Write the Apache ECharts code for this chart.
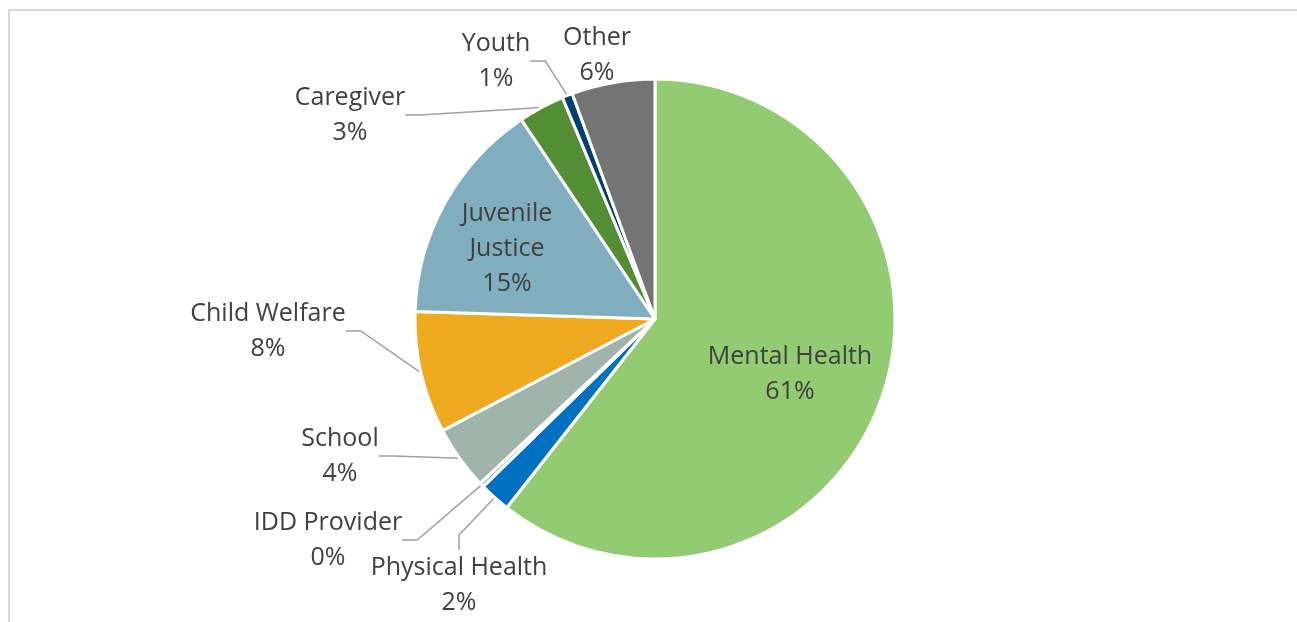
<!DOCTYPE html>
<html>
<head>
<meta charset="utf-8">
<script src="https://cdn.jsdelivr.net/npm/echarts@6/dist/echarts.min.js"></script>
<style>
  html, body { margin: 0; padding: 0; background: #ffffff; }
  #chart { width: 1297px; height: 622px; }
</style>
</head>
<body>
<div id="chart"></div>
<script>
// Referral sources, share of referrals (%), clockwise from 12 o'clock
const categories = ['Mental Health', 'Physical Health', 'IDD Provider', 'School', 'Child Welfare',
  'Juvenile Justice', 'Caregiver', 'Youth', 'Other'];
const shares = [60.6, 2.1, 0.3, 4.3, 8.2, 15.1, 3.1, 0.7, 5.6];

// Display names (Juvenile Justice wraps onto two lines inside its slice)
const labelNames = ['Mental Health', 'Physical Health', 'IDD Provider', 'School', 'Child Welfare',
  'Juvenile\nJustice', 'Caregiver', 'Youth', 'Other'];

const sliceColors = ['#92cb72', '#0070c0', '#b7b7b7', '#a1b4ab', '#f0aa1f',
  '#80aebf', '#538d34', '#003f72', '#747474'];

// Label block centres and which labels sit inside their slice
const labelSpots = [
  [790, 374], [459, 585], [328, 540], [340, 456], [268, 331],
  [507, 249], [350, 115], [496, 61], [597, 55]
];
const insideLabels = ['Mental Health', 'Juvenile Justice', 'Other'];

const chart = echarts.init(document.getElementById('chart'), null, { renderer: 'canvas' });

chart.setOption({
  backgroundColor: '#ffffff',
  animation: false,
  graphic: [{
    type: 'polyline',
    shape: { points: [[9, 640], [9, 10], [1310, 10]] },
    style: { stroke: '#d9d9d9', lineWidth: 2, fill: null },
    silent: true
  }],
  series: [{
    type: 'pie',
    center: [655, 319],
    radius: 240,
    startAngle: 90,
    clockwise: true,
    avoidLabelOverlap: false,
    percentPrecision: 1,
    itemStyle: { borderColor: '#ffffff', borderWidth: 3 },
    label: {
      show: true,
      position: 'outside',
      fontFamily: '"Open Sans", sans-serif',
      fontSize: 25,
      lineHeight: 35,
      color: '#404040',
      align: 'center',
      formatter: p => labelNames[p.dataIndex] + '\n' + Math.round(p.percent) + '%'
    },
    labelLine: {
      show: true,
      length: 20,
      length2: 15,
      lineStyle: { color: '#a0a0a0', width: 1.5 }
    },
    labelLayout: p => ({
      x: labelSpots[p.dataIndex][0],
      y: labelSpots[p.dataIndex][1],
      align: 'center',
      verticalAlign: 'middle'
    }),
    data: categories.map((name, i) => ({
      name: name,
      value: shares[i],
      itemStyle: { color: sliceColors[i] },
      labelLine: { show: insideLabels.indexOf(name) < 0 }
    }))
  }]
});
</script>
</body>
</html>
